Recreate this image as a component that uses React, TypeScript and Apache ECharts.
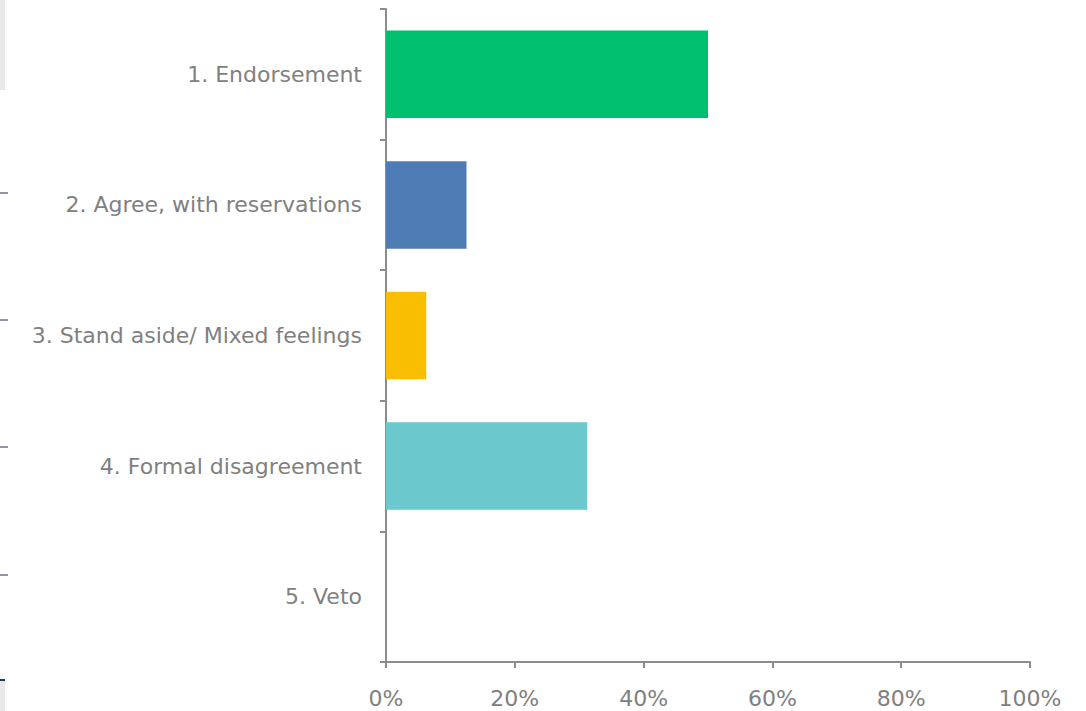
import React, { useEffect, useRef } from "react";
import * as echarts from "echarts";

const categories = [
  "1. Endorsement",
  "2. Agree, with reservations",
  "3. Stand aside/ Mixed feelings",
  "4. Formal disagreement",
  "5. Veto",
];
const values = [0.5, 0.125, 0.0625, 0.3125, 0];
const colors = ["#00BF6F", "#507CB6", "#F9BE00", "#6BC8CD", "#A5A5A5"];
const xTicks = [0, 0.2, 0.4, 0.6, 0.8, 1];

export default function App() {
  const ref = useRef<HTMLDivElement>(null);
  useEffect(() => {
    if (!ref.current) return;
    const chart = echarts.init(ref.current, undefined, { renderer: "svg" });
    const axisColor = "#8C8C8C";
    const font = "'DejaVu Sans', 'Open Sans', sans-serif";
    chart.setOption({
      animation: false,
      grid: { left: 386, right: 56, top: 9, bottom: 49, containLabel: false },
      xAxis: {
        type: "value",
        min: xTicks[0],
        max: xTicks[xTicks.length - 1],
        interval: 0.2,
        axisLine: { show: true, lineStyle: { color: axisColor, width: 2 } },
        axisTick: { show: true, length: 6, lineStyle: { color: axisColor, width: 2 } },
        splitLine: { show: false },
        axisLabel: {
          color: "#808080",
          fontSize: 22,
          fontFamily: font,
          margin: 25,
          formatter: (v: number) => Math.round(v * 100) + "%",
        },
      },
      yAxis: {
        type: "category",
        inverse: true,
        data: categories,
        axisLine: { show: true, lineStyle: { color: axisColor, width: 2 } },
        axisTick: { show: true, length: 6, lineStyle: { color: axisColor, width: 2 } },
        axisLabel: {
          color: "#808080",
          fontSize: 22,
          fontFamily: font,
          margin: 24,
        },
      },
      series: [
        {
          type: "bar",
          data: values.map((v, i) => ({ value: v, itemStyle: { color: colors[i] } })),
          barCategoryGap: "33%",
        },
      ],
      graphic: [
        { type: "rect", shape: { x: 0, y: 0, width: 5, height: 90 }, style: { fill: "#E8E8E8" } },
        { type: "rect", shape: { x: 0, y: 680, width: 5, height: 31 }, style: { fill: "#E8E8E8" } },
        { type: "rect", shape: { x: 0, y: 679, width: 5, height: 2 }, style: { fill: "#1F3864" } },
        { type: "line", shape: { x1: 0, y1: 193, x2: 8, y2: 193 }, style: { stroke: "#1F2D4A", lineWidth: 1 } },
        { type: "line", shape: { x1: 0, y1: 320, x2: 8, y2: 320 }, style: { stroke: "#1F2D4A", lineWidth: 1 } },
        { type: "line", shape: { x1: 0, y1: 447, x2: 8, y2: 447 }, style: { stroke: "#1F2D4A", lineWidth: 1 } },
        { type: "line", shape: { x1: 0, y1: 575, x2: 8, y2: 575 }, style: { stroke: "#1F2D4A", lineWidth: 1 } },
      ],
    });
    return () => chart.dispose();
  }, []);
  return (
    <div
      ref={ref}
      style={{ position: "fixed", left: 0, top: 0, width: 1086, height: 711, background: "#fff" }}
    />
  );
}
